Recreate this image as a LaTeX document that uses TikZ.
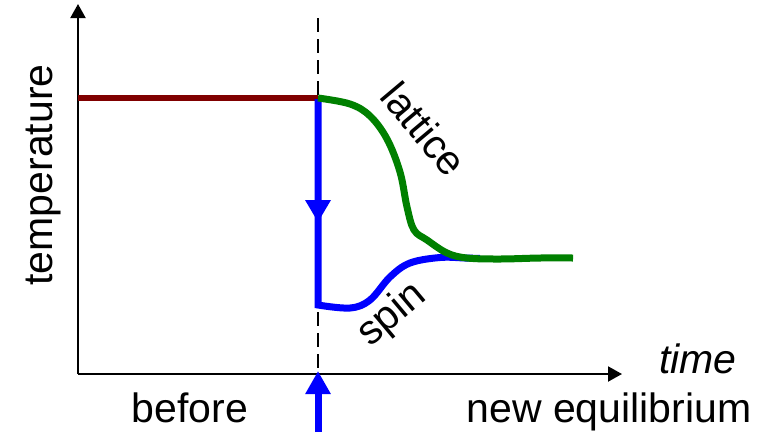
\documentclass[tikz,border=0pt]{standalone}
\usepackage{fontspec}
\setmainfont{Liberation Sans}
\usetikzlibrary{arrows.meta}
\definecolor{dkred}{RGB}{128,0,0}
\definecolor{lgreen}{RGB}{0,128,0}
\definecolor{pblue}{RGB}{0,0,255}
\begin{document}
\begin{tikzpicture}[x=1pt,y=-1pt,
  axis/.style={line width=2pt,-{Triangle[length=14pt,width=15pt]}},
  lbl/.style={font=\fontsize{41}{49}\selectfont, inner sep=0pt},
  curvelbl/.style={lbl}]
\useasboundingbox (0,0) rectangle (775,432);
% axes
\coordinate (O) at (78,374);
\coordinate (Ytop) at (78,4);
\coordinate (Xend) at (622,374);
\draw[axis] (O) -- (Ytop);
\draw[axis] (O) -- (Xend);
% dashed line
\coordinate (Dtop) at (318,18);
\coordinate (Dbot) at (318,372);
\draw[line width=1.5pt, dash pattern=on 14pt off 7pt] (Dtop) -- (Dbot);
% before: dark red
\coordinate (Rs) at (78,98);
\coordinate (Rc) at (318,98);
\draw[dkred, line width=6pt] (Rs) -- (Rc);
% spin
\draw[pblue, line width=7pt] (318,99) -- plot[smooth, tension=0.6] coordinates {(318,305) (350,308) (370,300) (390,277) (410,263) (440,257.5) (465,258) (480,258.5)};
\fill[pblue] (305,200) -- (331,200) -- (318,222) -- cycle;
% lattice
\draw[lgreen, line width=7pt] plot[smooth, tension=0.6] coordinates {(318,98) (350,104) (370,116) (387,139) (400,172) (407,207) (414,230) (427,240) (447,253) (467,258) (500,259) (540,258) (573,258)};
% bottom arrow
\coordinate (Bb) at (318,432);
\coordinate (Bt) at (318,371);
\draw[pblue, line width=7pt, -{Triangle[length=23pt,width=24pt]}] (Bb) -- (Bt);
% labels
\node[lbl, rotate=90, anchor=base] (temp) at (52,175) {temperature};
\node[lbl, anchor=base] (before) at (190,422) {before};
\node[lbl, anchor=base] (neweq) at (609,422) {new equilibrium};
\node[lbl, anchor=base, font=\fontsize{41}{49}\selectfont\itshape] (time) at (698,373) {time};
\node[curvelbl, rotate=-50] (lattice) at (424,129) {lattice};
\node[curvelbl, rotate=40] (spin) at (392,315) {spin};
\end{tikzpicture}
\end{document}
